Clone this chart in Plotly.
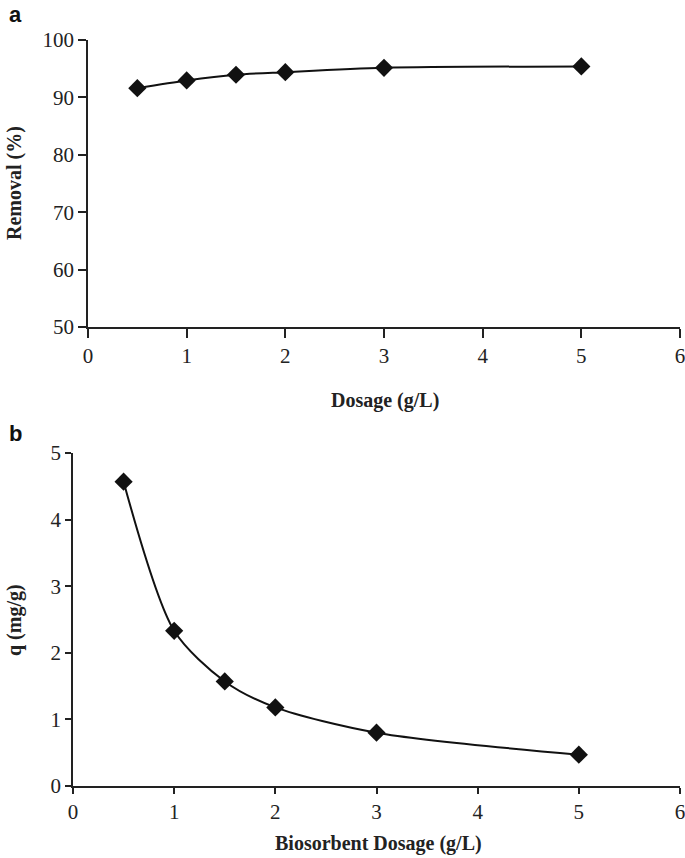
import plotly.graph_objects as go

dosage = [0.5, 1.0, 1.5, 2.0, 3.0, 5.0]
removal = [91.6, 92.95, 93.95, 94.4, 95.15, 95.4]
q_values = [4.57, 2.33, 1.57, 1.18, 0.80, 0.47]

x_ticks = [0, 1, 2, 3, 4, 5, 6]
y_ticks_a = [50, 60, 70, 80, 90, 100]
y_ticks_b = [0, 1, 2, 3, 4, 5]

W, H = 685, 858
serif = "Liberation Serif, Times New Roman, serif"

fig = go.Figure()
mk = dict(symbol="diamond", size=14, color="#111111")
ln = dict(color="#111111", width=2, shape="spline", smoothing=0.8)

fig.add_trace(go.Scatter(x=dosage, y=removal, mode="lines+markers", marker=mk, line=ln,
                         xaxis="x", yaxis="y", showlegend=False, cliponaxis=False))
fig.add_trace(go.Scatter(x=dosage, y=q_values, mode="lines+markers", marker=mk, line=ln,
                         xaxis="x2", yaxis="y2", showlegend=False, cliponaxis=False))

def axis_style(ticklen):
    return dict(showline=True, linecolor="#222222", linewidth=1.5, ticks="outside",
                ticklen=ticklen, tickwidth=1.5, tickcolor="#222222", showgrid=False,
                zeroline=False, automargin=False, ticklabeloverflow="allow",
                tickfont=dict(family=serif, size=21, color="#222222"))

fig.update_layout(
    template="none",
    width=W, height=H, margin=dict(l=0, r=0, t=0, b=0, pad=0),
    paper_bgcolor="white", plot_bgcolor="white",
    xaxis=dict(domain=[88/W, 680/W], range=[0, 6], tickvals=x_ticks, anchor="y", **axis_style(9)),
    yaxis=dict(domain=[(H-327)/H, (H-40)/H], range=[50, 100], tickvals=y_ticks_a, anchor="x", **axis_style(8)),
    xaxis2=dict(domain=[73/W, 680/W], range=[0, 6], tickvals=x_ticks, anchor="y2", **axis_style(6)),
    yaxis2=dict(domain=[(H-786)/H, (H-453)/H], range=[0, 5], tickvals=y_ticks_b, anchor="x2", **axis_style(6)),
)

title_font = dict(family=serif, size=20, color="#222222")
anns = [
    dict(text="<b>Dosage (g/L)</b>", x=385/W, y=(H-400)/H, xref="paper", yref="paper",
         showarrow=False, font=title_font, xanchor="center", yanchor="middle"),
    dict(text="<b>Removal (%)</b>", x=14/W, y=(H-183)/H, xref="paper", yref="paper",
         showarrow=False, font=title_font, textangle=-90, xanchor="center", yanchor="middle"),
    dict(text="<b>Biosorbent Dosage (g/L)</b>", x=378/W, y=(H-843)/H, xref="paper", yref="paper",
         showarrow=False, font=title_font, xanchor="center", yanchor="middle"),
    dict(text="<b>q (mg/g)</b>", x=14/W, y=(H-620)/H, xref="paper", yref="paper",
         showarrow=False, font=title_font, textangle=-90, xanchor="center", yanchor="middle"),
    dict(text="<b>a</b>", x=15/W, y=(H-14)/H, xref="paper", yref="paper",
         showarrow=False, font=dict(family="Liberation Sans, Arial, sans-serif", size=22, color="#111111"),
         xanchor="center", yanchor="middle"),
    dict(text="<b>b</b>", x=15/W, y=(H-433)/H, xref="paper", yref="paper",
         showarrow=False, font=dict(family="Liberation Sans, Arial, sans-serif", size=22, color="#111111"),
         xanchor="center", yanchor="middle"),
]
fig.update_layout(annotations=anns)

fig.write_html("out.html", config={"displayModeBar": False},
               post_script="document.body.style.margin='0';document.body.style.overflow='hidden';")
